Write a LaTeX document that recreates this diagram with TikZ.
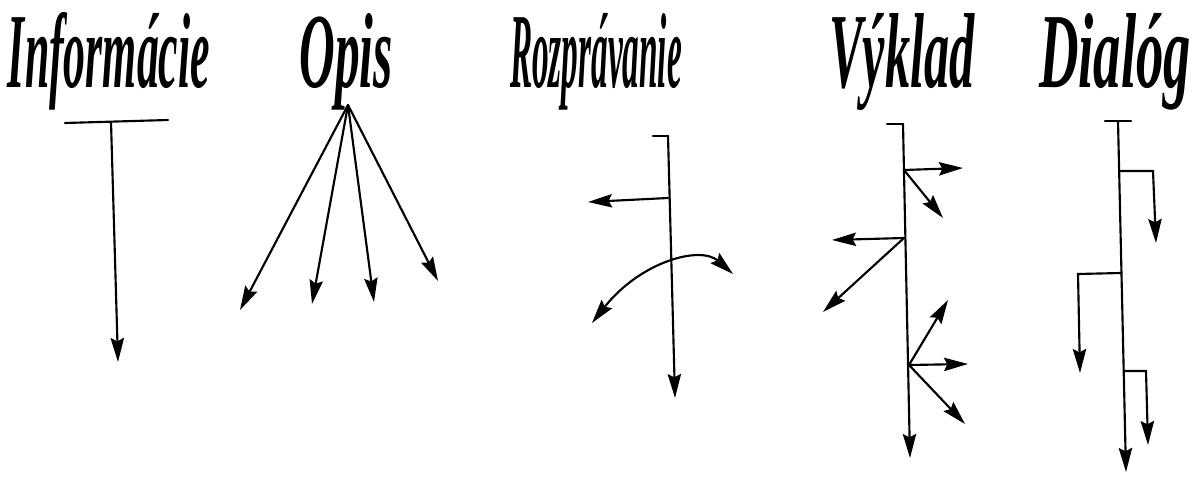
\documentclass[tikz,border=0pt]{standalone}
\usepackage{fontspec}
\setmainfont{Liberation Serif}
\usetikzlibrary{arrows.meta}
\newsavebox\tbox
\newcommand\fitw[2]{\sbox\tbox{#2}\pgfmathsetmacro\sxfac{#1/\wd\tbox}%
  \edef\tmpff{\noexpand\addfontfeatures{FakeStretch=\sxfac}}{\tmpff #2}}
\tikzset{
  title/.style={anchor=base, inner sep=0pt, font=\fontsize{80}{82}\selectfont\bfseries\itshape},
  ln/.style={line width=1.6pt, line cap=round},
  arr/.style={ln, -{Stealth[length=18pt,width=10pt,inset=2.5pt]}},
  darr/.style={ln, {Stealth[length=18pt,width=10pt,inset=2.5pt]}-{Stealth[length=18pt,width=10pt,inset=2.5pt]}}
}
\begin{document}
\begin{tikzpicture}[x=0.75pt,y=-0.75pt]
\useasboundingbox (0,0) rectangle (1196,477);
\fill[white] (0,0) rectangle (1196,477);
% titles
\node[title] (t1) at (109,88) {\fitw{151.5pt}{Informácie}};
\node[title] (t2) at (346,88) {\fitw{70pt}{Opis}};
\node[title] (t3) at (596,88) {\fitw{129pt}{Rozprávanie}};
\node[title] (t4) at (902,88) {\fitw{109pt}{Výklad}};
\node[title] (t5) at (1115,88) {\fitw{114pt}{Dialóg}};
% Informacie
\coordinate (iL) at (65,123); \coordinate (iR) at (168,120);
\coordinate (iT) at (111,122); \coordinate (iE) at (118,362);
\draw[ln] (iL) -- (iR);
\draw[arr] (iT) -- (iE);
% Opis
\coordinate (oA) at (348,105);
\coordinate (o1) at (240,310); \coordinate (o2) at (312,304);
\coordinate (o3) at (374,302); \coordinate (o4) at (438,281);
\foreach \e in {o1,o2,o3,o4} \draw[arr] (oA) -- (\e);
% Rozpravanie
\coordinate (rL) at (653,136); \coordinate (rT) at (668,136);
\coordinate (rE) at (675,398); \coordinate (rB) at (668,198);
\coordinate (rBE) at (588,202);
\coordinate (rC1) at (592,323); \coordinate (rC2) at (733,274);
\draw[ln] (rL) -- (rT);
\draw[arr] (rT) -- (rE);
\draw[arr] (rB) -- (rBE);
\draw[darr] (rC1) .. controls (640,262) and (700,245) .. (rC2);
% Vyklad
\coordinate (vL) at (887,124); \coordinate (vT) at (903,124);
\coordinate (vE) at (910,458);
\coordinate (v1) at (904,170); \coordinate (v1a) at (963,168); \coordinate (v1b) at (943,218);
\coordinate (v2) at (904,238); \coordinate (v2a) at (832,240); \coordinate (v2b) at (823,312);
\coordinate (v3) at (909,365); \coordinate (v3a) at (948,300); \coordinate (v3b) at (968,364); \coordinate (v3c) at (965,424);
\draw[ln] (vL) -- (vT);
\draw[arr] (vT) -- (vE);
\draw[arr] (v1) -- (v1a); \draw[arr] (v1) -- (v1b);
\draw[arr] (v2) -- (v2a); \draw[arr] (v2) -- (v2b);
\draw[arr] (v3) -- (v3a); \draw[arr] (v3) -- (v3b); \draw[arr] (v3) -- (v3c);
% Dialog
\coordinate (dL) at (1105,121); \coordinate (dR) at (1131,121);
\coordinate (dT) at (1118,121); \coordinate (dE) at (1126,472);
\coordinate (d1) at (1119,171); \coordinate (d1c) at (1153,171); \coordinate (d1e) at (1156,243);
\coordinate (d2) at (1121,273); \coordinate (d2c) at (1078,274); \coordinate (d2e) at (1080,373);
\coordinate (d3) at (1124,371); \coordinate (d3c) at (1146,371); \coordinate (d3e) at (1148,445);
\draw[ln] (dL) -- (dR);
\draw[arr] (dT) -- (dE);
\draw[arr] (d1) -- (d1c) -- (d1e);
\draw[arr] (d2) -- (d2c) -- (d2e);
\draw[arr] (d3) -- (d3c) -- (d3e);
\end{tikzpicture}
\end{document}
